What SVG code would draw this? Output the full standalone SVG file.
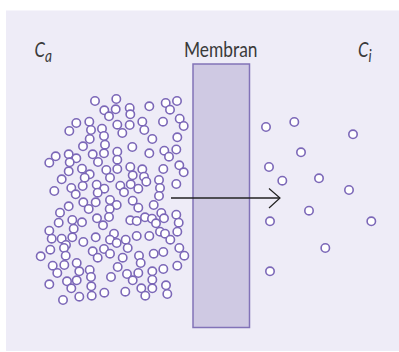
<svg xmlns="http://www.w3.org/2000/svg" width="399" height="352" viewBox="0 0 399 352">
<style>
.bg{fill:#eeecf7}
.m{fill:#cfc9e3;stroke:#8273b8;stroke-width:1.5}
.p{fill:#fff;stroke:#7c68b8;stroke-width:1.6}
.t{font-family:"Lato","Open Sans",sans-serif;fill:#3a3a3a}
.i{font-style:italic}
.a{fill:none;stroke:#222;stroke-width:1.7}
.h{fill:none;stroke:#222;stroke-width:1.2}
</style>
<defs><circle id="c" r="4.2" class="p"/></defs>
<rect class="bg" x="6" y="10.500" width="393" height="340.500"/>
<g id="membrane"><rect class="m" x="193" y="64" width="56.500" height="263.500"/></g>
<g id="labels">
<text class="t" x="184" y="56.700" font-size="20.500" textLength="73.500" lengthAdjust="spacingAndGlyphs">Membran</text>
<text class="t i" transform="translate(34.500 56.700) scale(.78 1)" font-size="21.500">C<tspan font-size="17.500" dy="5.300">a</tspan></text>
<text class="t i" transform="translate(358 56.700) scale(.78 1)" font-size="21.500">C<tspan font-size="17.500" dy="5.300">i</tspan></text>
</g>
<g id="particles">
<use href="#c" x="95" y="101"/><use href="#c" x="116.300" y="99"/><use href="#c" x="104.300" y="110.300"/><use href="#c" x="115.700" y="109.300"/><use href="#c" x="129.700" y="108"/><use href="#c" x="130.300" y="114.300"/><use href="#c" x="109" y="116.300"/><use href="#c" x="149.300" y="106.300"/><use href="#c" x="165.700" y="103"/><use href="#c" x="177" y="101"/><use href="#c" x="170" y="109.700"/><use href="#c" x="179.700" y="118.700"/><use href="#c" x="183.700" y="126"/><use href="#c" x="163" y="121.700"/><use href="#c" x="142.300" y="121.700"/><use href="#c" x="144.300" y="130"/><use href="#c" x="129.700" y="125"/><use href="#c" x="117.300" y="124.700"/><use href="#c" x="122.300" y="133"/><use href="#c" x="89.300" y="121.700"/><use href="#c" x="76.300" y="123"/><use href="#c" x="69.300" y="131"/><use href="#c" x="91" y="130"/><use href="#c" x="102" y="128.700"/><use href="#c" x="104" y="136"/><use href="#c" x="89.700" y="139"/><use href="#c" x="152.300" y="139"/><use href="#c" x="177.300" y="137.300"/><use href="#c" x="83" y="146.300"/><use href="#c" x="105" y="144.700"/><use href="#c" x="132.300" y="147"/>
<use href="#c" x="55.700" y="156.300"/><use href="#c" x="49.300" y="162.700"/><use href="#c" x="68.700" y="154.300"/><use href="#c" x="76.300" y="158.300"/><use href="#c" x="69.700" y="162.300"/><use href="#c" x="92.700" y="154.300"/><use href="#c" x="104" y="153.300"/><use href="#c" x="117.300" y="151.700"/><use href="#c" x="98" y="162"/><use href="#c" x="117.300" y="159.700"/><use href="#c" x="149.300" y="153.300"/><use href="#c" x="164.300" y="150.700"/><use href="#c" x="176.300" y="149.500"/><use href="#c" x="169" y="156.700"/><use href="#c" x="179.300" y="165.300"/><use href="#c" x="183.700" y="172.300"/><use href="#c" x="163.300" y="169"/><use href="#c" x="142.300" y="169.300"/><use href="#c" x="130.300" y="167"/><use href="#c" x="117.300" y="169"/><use href="#c" x="106.300" y="170"/><use href="#c" x="110" y="177.700"/><use href="#c" x="82" y="168.700"/><use href="#c" x="68.700" y="171.300"/><use href="#c" x="89.700" y="174.300"/><use href="#c" x="84.700" y="177.700"/><use href="#c" x="61.700" y="179.300"/><use href="#c" x="132.700" y="175.300"/><use href="#c" x="144" y="176.700"/><use href="#c" x="146.300" y="181.700"/><use href="#c" x="159" y="180"/><use href="#c" x="160" y="188"/><use href="#c" x="159" y="196"/><use href="#c" x="176.300" y="184"/><use href="#c" x="130.700" y="184.300"/><use href="#c" x="120.300" y="185.700"/><use href="#c" x="138.300" y="188.700"/><use href="#c" x="124" y="192.300"/><use href="#c" x="82.700" y="186"/><use href="#c" x="96.700" y="184.700"/><use href="#c" x="104.300" y="188.700"/><use href="#c" x="97.700" y="192.700"/><use href="#c" x="71.300" y="188"/><use href="#c" x="75.700" y="194.300"/><use href="#c" x="54.300" y="191"/><use href="#c" x="83.300" y="202.300"/><use href="#c" x="95.700" y="202.300"/><use href="#c" x="88.700" y="209"/><use href="#c" x="68.700" y="206.300"/><use href="#c" x="60" y="212.700"/><use href="#c" x="110" y="200"/><use href="#c" x="116.700" y="205"/><use href="#c" x="109.700" y="209"/><use href="#c" x="109" y="217"/><use href="#c" x="132.700" y="200.700"/><use href="#c" x="138.300" y="207.700"/><use href="#c" x="153.700" y="205"/><use href="#c" x="161.300" y="213"/><use href="#c" x="176.300" y="214.700"/><use href="#c" x="164" y="218.300"/><use href="#c" x="178.700" y="222.700"/><use href="#c" x="177.300" y="231.700"/><use href="#c" x="145" y="217.300"/><use href="#c" x="152" y="218.700"/><use href="#c" x="156" y="223.300"/><use href="#c" x="130.300" y="220.300"/><use href="#c" x="136.700" y="221"/><use href="#c" x="97" y="218.300"/><use href="#c" x="103" y="225.300"/><use href="#c" x="72.300" y="220"/><use href="#c" x="82" y="222.300"/><use href="#c" x="58.700" y="222.700"/><use href="#c" x="73.700" y="228.700"/><use href="#c" x="49.300" y="230.700"/><use href="#c" x="51.700" y="238.700"/><use href="#c" x="61.700" y="238.700"/><use href="#c" x="72.300" y="237.300"/><use href="#c" x="83.300" y="242"/><use href="#c" x="95.700" y="237.300"/><use href="#c" x="114" y="233.700"/><use href="#c" x="110" y="239.700"/><use href="#c" x="116.700" y="243"/><use href="#c" x="125.700" y="239.700"/><use href="#c" x="136.700" y="236"/><use href="#c" x="149.300" y="236"/><use href="#c" x="160" y="231.700"/><use href="#c" x="165" y="233.700"/><use href="#c" x="170.300" y="239.700"/><use href="#c" x="179.300" y="248"/><use href="#c" x="184.300" y="255.700"/><use href="#c" x="163.300" y="252"/><use href="#c" x="153.700" y="253.700"/><use href="#c" x="66" y="245"/><use href="#c" x="64" y="248"/><use href="#c" x="50.300" y="249.700"/><use href="#c" x="65.700" y="255.700"/><use href="#c" x="40.700" y="256.300"/><use href="#c" x="92.700" y="251.300"/><use href="#c" x="104" y="249"/><use href="#c" x="110" y="253.700"/><use href="#c" x="97.700" y="257.700"/><use href="#c" x="127.700" y="248"/><use href="#c" x="122.700" y="257.700"/><use href="#c" x="139" y="255.700"/><use href="#c" x="140.700" y="263"/><use href="#c" x="52.700" y="265.700"/><use href="#c" x="64.300" y="265"/><use href="#c" x="76.700" y="263"/><use href="#c" x="79.300" y="271.300"/><use href="#c" x="89.700" y="270"/><use href="#c" x="57.300" y="273"/><use href="#c" x="117.700" y="267"/><use href="#c" x="177.300" y="265.700"/><use href="#c" x="163.300" y="269"/><use href="#c" x="152.300" y="271.300"/><use href="#c" x="138.300" y="273"/><use href="#c" x="127" y="274"/><use href="#c" x="132.700" y="280.300"/><use href="#c" x="152.300" y="279.700"/><use href="#c" x="111" y="277"/><use href="#c" x="91" y="277"/><use href="#c" x="76.700" y="280.300"/><use href="#c" x="67" y="281.300"/><use href="#c" x="49.300" y="284.300"/><use href="#c" x="71.300" y="288.300"/><use href="#c" x="91.300" y="286.300"/><use href="#c" x="166" y="285.300"/><use href="#c" x="141.300" y="288.300"/><use href="#c" x="152.300" y="288.300"/><use href="#c" x="167.300" y="294"/><use href="#c" x="145.300" y="295.700"/><use href="#c" x="125.300" y="291.700"/><use href="#c" x="104.300" y="292.700"/><use href="#c" x="91.700" y="295.700"/><use href="#c" x="79.300" y="296.700"/><use href="#c" x="63" y="300"/>
<use href="#c" x="266" y="127"/><use href="#c" x="294.300" y="122"/><use href="#c" x="353" y="134.300"/><use href="#c" x="301" y="152.300"/><use href="#c" x="269" y="167"/><use href="#c" x="282.300" y="180.700"/><use href="#c" x="319" y="178.300"/><use href="#c" x="349" y="190"/><use href="#c" x="309" y="210.700"/><use href="#c" x="270" y="221.300"/><use href="#c" x="371.300" y="221.300"/><use href="#c" x="325.300" y="248"/><use href="#c" x="270" y="271.300"/>
</g>
<g id="connectors">
<path class="a" d="M171 198H280"/>
<path class="h" d="M269 188.500L280 198L269 208"/>
</g>
</svg>
